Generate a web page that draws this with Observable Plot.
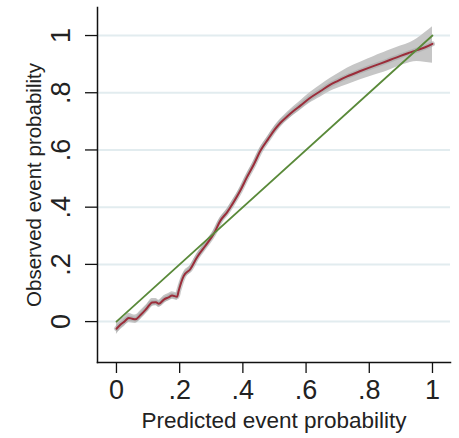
<!DOCTYPE html>
<html>
<head>
<meta charset="utf-8">
<script src="https://cdn.jsdelivr.net/npm/d3@7"></script>
<script src="https://cdn.jsdelivr.net/npm/@observablehq/plot@0.6"></script>
<style>
  html, body { margin: 0; padding: 0; background: #fff; }
  #chart svg { display: block; }
</style>
</head>
<body>
<div id="chart"></div>
<script>
// Smoothed calibration curve: predicted probability, observed probability
const predicted = [0, 0.013, 0.025, 0.039, 0.05, 0.06, 0.076, 0.095, 0.113, 0.125, 0.134, 0.15, 0.165, 0.176, 0.192, 0.197, 0.213, 0.234, 0.255, 0.282, 0.308, 0.329, 0.35, 0.371, 0.392, 0.413, 0.435, 0.456, 0.48, 0.5, 0.519, 0.54, 0.561, 0.582, 0.61, 0.646, 0.677, 0.698, 0.73, 0.772, 0.815, 0.835, 0.857, 0.899, 0.93, 0.951, 0.975, 1.0];
const observed  = [-0.025, -0.01, 0.0, 0.013, 0.01, 0.008, 0.023, 0.045, 0.067, 0.068, 0.062, 0.077, 0.085, 0.091, 0.087, 0.108, 0.16, 0.184, 0.225, 0.266, 0.307, 0.353, 0.382, 0.418, 0.458, 0.505, 0.55, 0.598, 0.638, 0.67, 0.695, 0.717, 0.737, 0.755, 0.78, 0.806, 0.828, 0.84, 0.857, 0.876, 0.894, 0.902, 0.911, 0.929, 0.941, 0.949, 0.958, 0.971];
const lowerCI   = [-0.045, -0.028, -0.017, -0.003, -0.005, -0.007, 0.008, 0.031, 0.053, 0.055, 0.049, 0.064, 0.072, 0.078, 0.074, 0.095, 0.147, 0.171, 0.212, 0.253, 0.295, 0.341, 0.37, 0.406, 0.446, 0.493, 0.538, 0.586, 0.626, 0.657, 0.682, 0.703, 0.722, 0.739, 0.762, 0.785, 0.805, 0.815, 0.828, 0.845, 0.861, 0.868, 0.876, 0.895, 0.906, 0.909, 0.907, 0.903];
const upperCI   = [-0.005, 0.008, 0.017, 0.029, 0.025, 0.023, 0.038, 0.059, 0.081, 0.081, 0.075, 0.09, 0.098, 0.104, 0.1, 0.121, 0.173, 0.197, 0.238, 0.279, 0.319, 0.365, 0.394, 0.43, 0.47, 0.517, 0.562, 0.61, 0.65, 0.683, 0.708, 0.731, 0.752, 0.771, 0.798, 0.827, 0.851, 0.865, 0.886, 0.907, 0.927, 0.936, 0.946, 0.963, 0.976, 0.989, 1.009, 1.031];
// Reference (perfect calibration) line
const diagX = [0, 1];
const diagY = [0, 1];
// Ticks
const xTicks = [0, 0.2, 0.4, 0.6, 0.8, 1];
const xTickLabels = ["0", ".2", ".4", ".6", ".8", "1"];
const yTicks = [0, 0.2, 0.4, 0.6, 0.8, 1];
const yTickLabels = ["0", ".2", ".4", ".6", ".8", "1"];
const xTitle = "Predicted event probability";
const yTitle = "Observed event probability";

const curve = predicted.map((p, i) => ({p, o: observed[i], lo: lowerCI[i], hi: upperCI[i]}));
const diag = diagX.map((x, i) => ({x, y: diagY[i]}));
const yTickData = yTicks.map((v, i) => ({v, label: yTickLabels[i]}));

const font = "'Liberation Sans', Arial, sans-serif";
const textColor = "#222";

const chart = Plot.plot({
  width: 459,
  height: 438,
  marginLeft: 97,
  marginRight: 9,
  marginTop: 7,
  marginBottom: 76,
  style: {fontFamily: font, background: "#fff", color: textColor},
  x: {domain: [-0.06, 1.057]},
  y: {domain: [-0.143, 1.098]},
  marks: [
    Plot.gridY(yTicks, {stroke: "#e2ecef", strokeOpacity: 1, strokeWidth: 2}),
    Plot.areaY(curve, {x: "p", y1: "lo", y2: "hi", fill: "#c6c6c6", fillOpacity: 1, curve: "monotone-x"}),
    Plot.line(curve, {x: "p", y: "o", stroke: "#a6a6a6", strokeWidth: 5, strokeOpacity: 0.6, curve: "monotone-x"}),
    Plot.line(curve, {x: "p", y: "o", stroke: "#9b2d3a", strokeWidth: 2, curve: "monotone-x"}),
    Plot.line(diag, {x: "x", y: "y", stroke: "#5a8a3a", strokeWidth: 1.8}),
    Plot.frame({anchor: "left", stroke: "#111", strokeWidth: 1.5}),
    Plot.frame({anchor: "bottom", stroke: "#111", strokeWidth: 1.5}),
    Plot.axisX({ticks: xTicks, tickFormat: (d, i) => xTickLabels[i], tickSize: 11, tickPadding: 6, fontSize: 27, label: null, stroke: "#111", strokeWidth: 1.3}),
    Plot.axisY({ticks: yTicks, tickFormat: () => "", tickSize: 12, label: null, stroke: "#111", strokeWidth: 1.3}),
    Plot.text(yTickData, {y: "v", text: "label", frameAnchor: "left", dx: -36, rotate: -90, textAnchor: "middle", lineAnchor: "middle", fontSize: 27, fill: textColor}),
    Plot.text([xTitle], {frameAnchor: "bottom", dy: 58, textAnchor: "middle", lineAnchor: "middle", fontSize: 22.5, fill: textColor}),
    Plot.text([yTitle], {frameAnchor: "left", dx: -63, rotate: -90, textAnchor: "middle", lineAnchor: "middle", fontSize: 20.5, fill: textColor})
  ]
});
document.getElementById("chart").appendChild(chart);
</script>
</body>
</html>
